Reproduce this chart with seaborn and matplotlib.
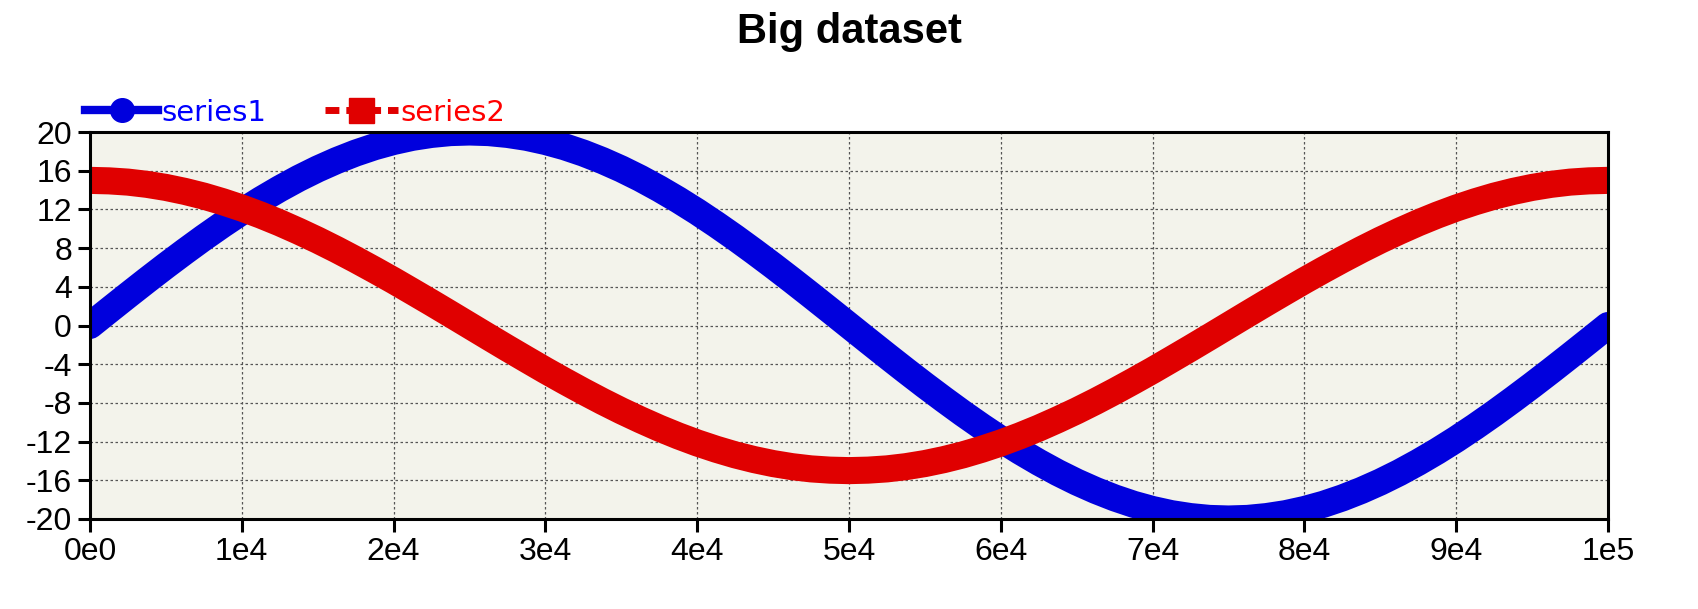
import numpy as np
import pandas as pd
import seaborn as sns
import matplotlib.pyplot as plt
from matplotlib.lines import Line2D

# values every 1.25e3
x_values = list(range(0, 100001, 1250))
series1_values = [
    0, 1.57, 3.13, 4.67, 6.18, 7.65, 9.08, 10.45, 11.76, 12.99,
    14.14, 15.21, 16.18, 17.05, 17.82, 18.48, 19.02, 19.45, 19.75, 19.94,
    20.0, 19.94, 19.75, 19.45, 19.02, 18.48, 17.82, 17.05, 16.18, 15.21,
    14.14, 12.99, 11.76, 10.45, 9.08, 7.65, 6.18, 4.67, 3.13, 1.57,
    0, -1.57, -3.13, -4.67, -6.18, -7.65, -9.08, -10.45, -11.76, -12.99,
    -14.14, -15.21, -16.18, -17.05, -17.82, -18.48, -19.02, -19.45, -19.75, -19.94,
    -20.0, -19.94, -19.75, -19.45, -19.02, -18.48, -17.82, -17.05, -16.18, -15.21,
    -14.14, -12.99, -11.76, -10.45, -9.08, -7.65, -6.18, -4.67, -3.13, -1.57, 0]
series2_values = [
    15.0, 14.95, 14.82, 14.59, 14.27, 13.86, 13.37, 12.79, 12.14, 11.41,
    10.61, 9.74, 8.82, 7.84, 6.81, 5.74, 4.64, 3.50, 2.35, 1.18,
    0, -1.18, -2.35, -3.50, -4.64, -5.74, -6.81, -7.84, -8.82, -9.74,
    -10.61, -11.41, -12.14, -12.79, -13.37, -13.86, -14.27, -14.59, -14.82, -14.95,
    -15.0, -14.95, -14.82, -14.59, -14.27, -13.86, -13.37, -12.79, -12.14, -11.41,
    -10.61, -9.74, -8.82, -7.84, -6.81, -5.74, -4.64, -3.50, -2.35, -1.18,
    0, 1.18, 2.35, 3.50, 4.64, 5.74, 6.81, 7.84, 8.82, 9.74,
    10.61, 11.41, 12.14, 12.79, 13.37, 13.86, 14.27, 14.59, 14.82, 14.95, 15.0]
x_ticks = [0, 10000, 20000, 30000, 40000, 50000, 60000, 70000, 80000, 90000, 100000]
x_tick_labels = ["0e0", "1e4", "2e4", "3e4", "4e4", "5e4", "6e4", "7e4", "8e4", "9e4", "1e5"]
y_ticks = [-20, -16, -12, -8, -4, 0, 4, 8, 12, 16, 20]

df = pd.DataFrame({"x": x_values, "series1": series1_values, "series2": series2_values})

plt.rcParams['font.family'] = ['Liberation Sans', 'DejaVu Sans']
plt.rcParams['axes.unicode_minus'] = False

blue = "#0000dd"
red = "#e00000"

fig = plt.figure(figsize=(16.98, 6.09), dpi=100)
ax = fig.add_axes([90 / 1698, 1 - 519 / 609, 1518 / 1698, 387 / 609])
ax.set_facecolor("#f3f3eb")

sns.lineplot(data=df, x="x", y="series1", ax=ax, color=blue, linewidth=19.5,
             solid_capstyle="round", legend=False, zorder=3)
sns.lineplot(data=df, x="x", y="series2", ax=ax, color=red, linewidth=19.5,
             solid_capstyle="butt", legend=False, zorder=4)

ax.set_xlim(0, 100000)
ax.set_ylim(-20, 20)
ax.set_xticks(x_ticks)
ax.set_xticklabels(x_tick_labels)
ax.set_yticks(y_ticks)
ax.set_xlabel("")
ax.set_ylabel("")
ax.tick_params(labelsize=23, width=2.2, length=9, pad=4, colors="black")
for s in ax.spines.values():
    s.set_linewidth(2.2)
    s.set_zorder(5)
ax.grid(True, color="#555555", linestyle=(0, (2, 2)), linewidth=0.9, zorder=1)
ax.set_axisbelow(True)

handles = [
    Line2D([], [], color=blue, lw=6, marker="o", markersize=17),
    Line2D([], [], color=red, lw=5, linestyle=(0, (2, 1)), marker="s", markersize=18),
]
leg = ax.legend(handles, ["series1", "series2"], loc="center left",
                bbox_to_anchor=(-0.003, 1.05), ncol=2, frameon=False,
                borderpad=0, borderaxespad=0, handlelength=2.5,
                handletextpad=0.1, columnspacing=2.0,
                prop={"family": "DejaVu Sans", "size": 21})
for txt, c in zip(leg.get_texts(), ["#0000ff", "#ff0000"]):
    txt.set_color(c)

fig.text(0.5, 1 - 43 / 609, "Big dataset", ha="center", va="baseline",
         fontsize=30, fontweight="bold")

fig.savefig("out.png", dpi=100)
